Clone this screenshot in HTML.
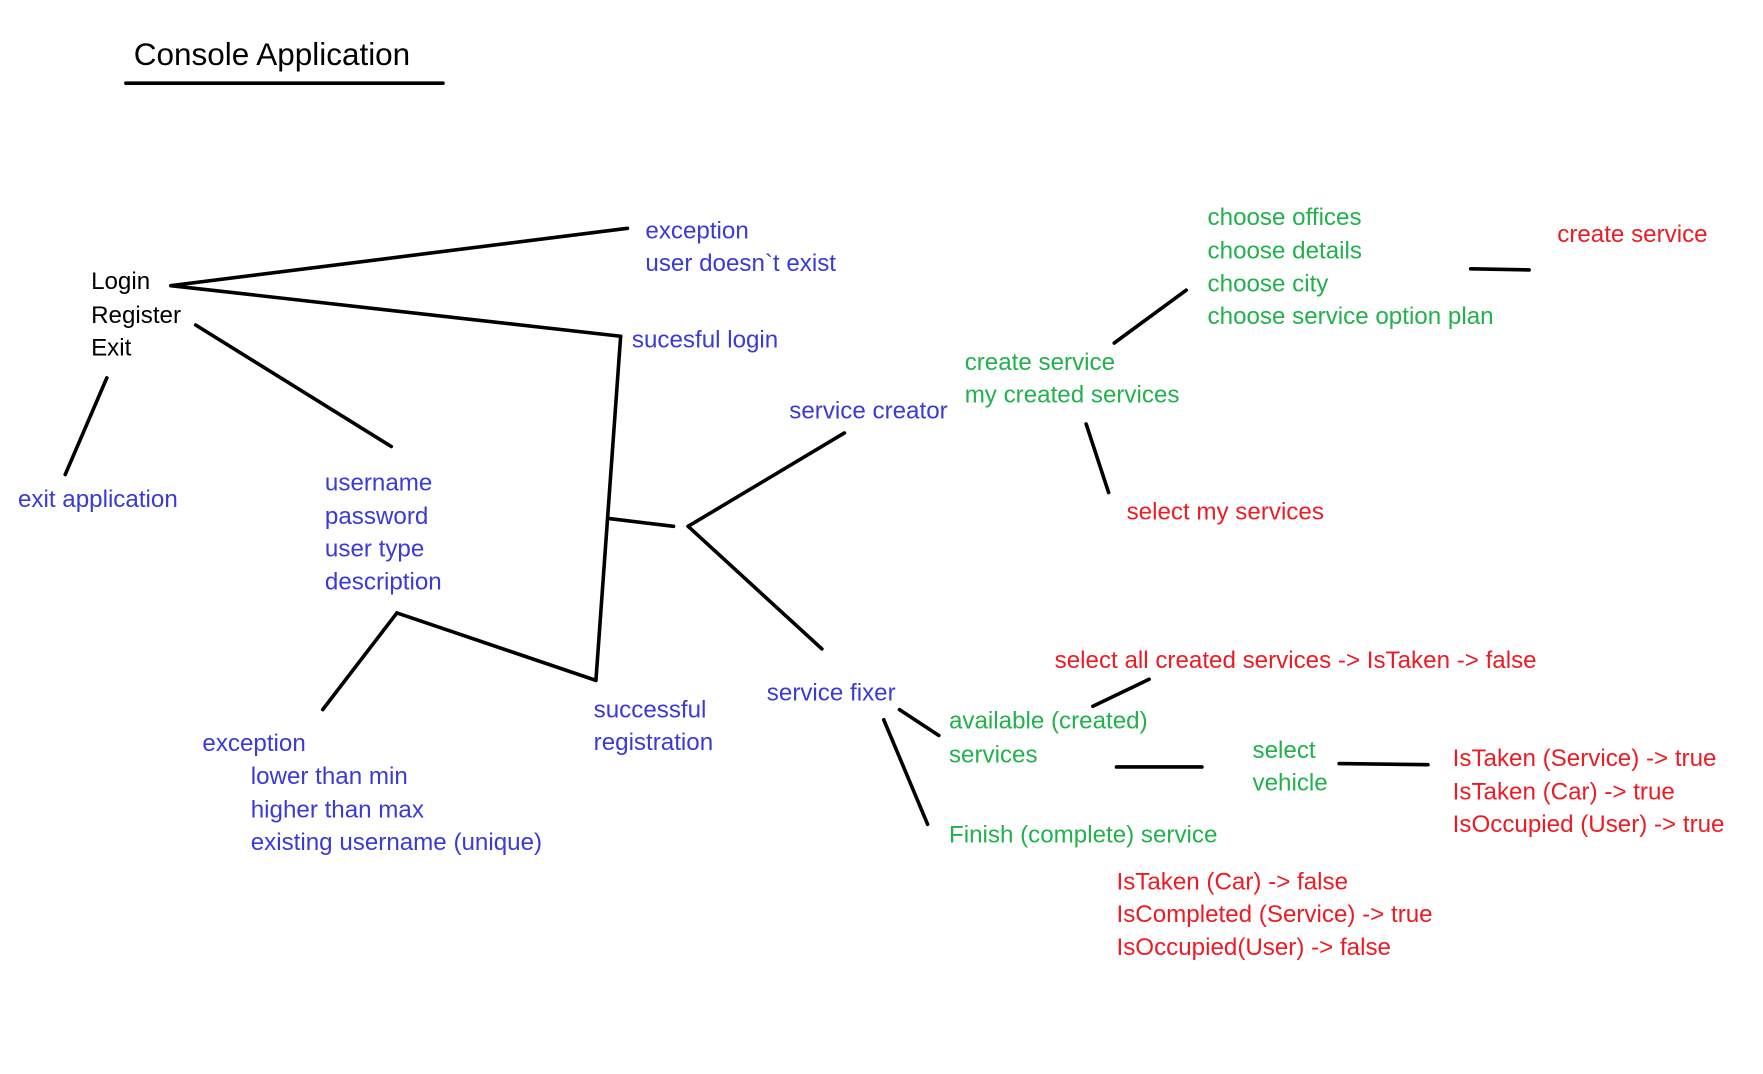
<!DOCTYPE html>
<html><head><meta charset="utf-8"><style>
html,body{margin:0;padding:0;background:#fff;width:1763px;height:1074px;overflow:hidden}
svg{display:block}
text{font-family:"Liberation Sans",sans-serif;font-size:21.5px}
.k{fill:#000}.b{fill:#3a3ad8}.g{fill:#22b14c}.r{fill:#ed1c24}
line{stroke:#000;stroke-width:3.2;stroke-linecap:round}
</style></head><body>
<svg width="1763" height="1074" viewBox="0 0 1568 955" preserveAspectRatio="none">
<text x="119" y="58" class="k" style="font-size:28px">Console Application</text>
<line x1="112" y1="74" x2="394" y2="74"/>
<line x1="152" y1="254" x2="558" y2="203"/>
<line x1="152" y1="254" x2="552" y2="299"/>
<line x1="552" y1="299" x2="530" y2="605"/>
<line x1="530" y1="605" x2="353" y2="545"/>
<line x1="353" y1="545" x2="287" y2="631"/>
<line x1="541" y1="461" x2="599" y2="468"/>
<line x1="612" y1="468" x2="751" y2="385"/>
<line x1="612" y1="468" x2="731" y2="577"/>
<line x1="174" y1="289" x2="348" y2="397"/>
<line x1="95" y1="336" x2="58" y2="422"/>
<line x1="991" y1="305" x2="1055" y2="258"/>
<line x1="1308" y1="239" x2="1360" y2="240"/>
<line x1="966" y1="377" x2="986" y2="438"/>
<line x1="972" y1="628" x2="1022" y2="604"/>
<line x1="800" y1="631" x2="835" y2="654"/>
<line x1="786" y1="640" x2="825" y2="733"/>
<line x1="993" y1="682" x2="1069" y2="682"/>
<line x1="1191" y1="679" x2="1270" y2="680"/>

<text x="81" y="257" class="k">Login</text>
<text x="81" y="287" class="k">Register</text>
<text x="81" y="316" class="k">Exit</text>
<text x="16" y="451" class="b">exit application</text>
<text x="574" y="212" class="b">exception</text>
<text x="574" y="241" class="b">user doesn`t exist</text>
<text x="562" y="309" class="b">sucesful login</text>
<text x="289" y="436" class="b">username</text>
<text x="289" y="466" class="b">password</text>
<text x="289" y="495" class="b">user type</text>
<text x="289" y="524" class="b">description</text>
<text x="180" y="668" class="b">exception</text>
<text x="223" y="697" class="b">lower than min</text>
<text x="223" y="727" class="b">higher than max</text>
<text x="223" y="756" class="b">existing username (unique)</text>
<text x="528" y="638" class="b">successful</text>
<text x="528" y="667" class="b">registration</text>
<text x="702" y="372" class="b">service creator</text>
<text x="682" y="623" class="b">service fixer</text>

<text x="858" y="329" class="g">create service</text>
<text x="858" y="358" class="g">my created services</text>
<text x="1074" y="200" class="g">choose offices</text>
<text x="1074" y="230" class="g">choose details</text>
<text x="1074" y="259" class="g">choose city</text>
<text x="1074" y="288" class="g">choose service option plan</text>
<text x="1385" y="215" class="r">create service</text>
<text x="1002" y="462" class="r">select my services</text>
<text x="938" y="594" class="r">select all created services -&gt; IsTaken -&gt; false</text>
<text x="844" y="648" class="g">available (created)</text>
<text x="844" y="678" class="g">services</text>
<text x="1114" y="674" class="g">select</text>
<text x="1114" y="703" class="g">vehicle</text>
<text x="844" y="749" class="g">Finish (complete) service</text>
<text x="1292" y="681" class="r">IsTaken (Service) -&gt; true</text>
<text x="1292" y="711" class="r">IsTaken (Car) -&gt; true</text>
<text x="1292" y="740" class="r">IsOccupied (User) -&gt; true</text>
<text x="993" y="791" class="r">IsTaken (Car) -&gt; false</text>
<text x="993" y="820" class="r">IsCompleted (Service) -&gt; true</text>
<text x="993" y="849" class="r">IsOccupied(User) -&gt; false</text>
</svg>
</body></html>
